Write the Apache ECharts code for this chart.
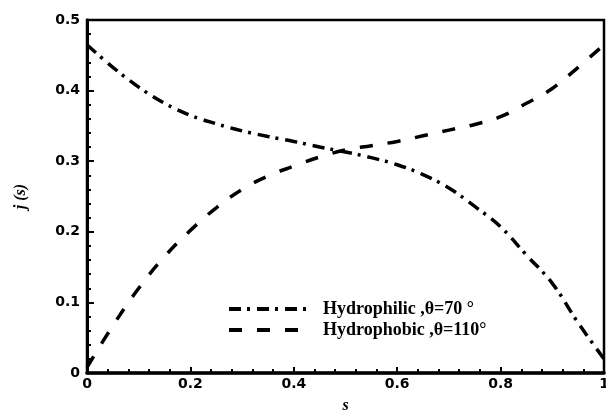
<!DOCTYPE html>
<html>
<head>
<meta charset="utf-8">
<script src="https://cdn.jsdelivr.net/npm/echarts@6/dist/echarts.min.js"></script>
<style>
  html, body { margin: 0; padding: 0; background: #fff; }
  #chart { width: 606px; height: 410px; }
</style>
</head>
<body>
<div id="chart"></div>
<script>
// Position along the path, s
const sValues = [0, 0.05, 0.10, 0.15, 0.20, 0.25, 0.30, 0.35, 0.40, 0.45, 0.50,
                 0.55, 0.60, 0.65, 0.70, 0.75, 0.80, 0.85, 0.90, 0.95, 1.00];

// j(s) for the hydrophilic case, θ = 70°
const hydrophilic = [0.465, 0.433, 0.405, 0.382, 0.365, 0.353, 0.343, 0.335, 0.328, 0.320, 0.313,
                     0.305, 0.295, 0.281, 0.262, 0.236, 0.207, 0.167, 0.127, 0.071, 0.020];

// j(s) for the hydrophobic case, θ = 110°
const hydrophobic = [0.008, 0.067, 0.120, 0.165, 0.202, 0.234, 0.260, 0.279, 0.293, 0.306, 0.316,
                     0.322, 0.328, 0.336, 0.344, 0.352, 0.363, 0.382, 0.403, 0.433, 0.465];

const seriesNames = ['Hydrophilic ,θ=70 °', 'Hydrophobic ,θ=110°'];

const xTicks = { min: 0, max: 1, step: 0.2 };
const yTicks = { min: 0, max: 0.5, step: 0.1 };

const pairs = ys => sValues.map((s, i) => [s, ys[i]]);

const labelFont = {
  color: '#000',
  fontFamily: 'DejaVu Sans',
  fontWeight: 'bold',
  fontSize: 14
};

const chart = echarts.init(document.getElementById('chart'), null, { renderer: 'canvas' });

chart.setOption({
  animation: false,
  backgroundColor: '#fff',
  grid: {
    left: 87, right: 2, top: 20, bottom: 37,
    outerBoundsMode: 'none',
    containLabel: false,
    show: true,
    borderColor: '#000',
    borderWidth: 2.5,
    backgroundColor: 'transparent'
  },
  legend: {
    orient: 'vertical',
    left: 222,
    top: 295,
    itemWidth: 80,
    itemHeight: 14,
    itemGap: 3,
    itemStyle: { opacity: 0 },
    lineStyle: { width: 4 },
    textStyle: {
      color: '#000',
      fontFamily: 'Liberation Serif',
      fontWeight: 'bold',
      fontSize: 18,
      lineHeight: 16,
      padding: [0, 0, 0, 9]
    },
    data: seriesNames
  },
  xAxis: {
    type: 'value',
    min: xTicks.min,
    max: xTicks.max,
    interval: xTicks.step,
    name: 's',
    nameLocation: 'middle',
    nameGap: 25,
    nameTextStyle: {
      color: '#000',
      fontFamily: 'Liberation Serif',
      fontStyle: 'italic',
      fontWeight: 'bold',
      fontSize: 16
    },
    axisLine: { show: true, lineStyle: { color: '#000', width: 3.5 } },
    axisTick: { show: true, inside: true, length: 6, lineStyle: { color: '#000', width: 2 } },
    minorTick: { show: true, splitNumber: 5, length: 4, lineStyle: { color: '#000', width: 2 } },
    axisLabel: Object.assign({ margin: 4 }, labelFont),
    splitLine: { show: false }
  },
  yAxis: {
    type: 'value',
    min: yTicks.min,
    max: yTicks.max,
    interval: yTicks.step,
    name: 'j (s)',
    nameLocation: 'middle',
    nameGap: 58,
    nameTextStyle: {
      color: '#000',
      fontFamily: 'Liberation Serif',
      fontStyle: 'italic',
      fontWeight: 'bold',
      fontSize: 16
    },
    axisLine: { show: true, lineStyle: { color: '#000', width: 3 } },
    axisTick: { show: true, inside: true, length: 7, lineStyle: { color: '#000', width: 2 } },
    minorTick: { show: true, splitNumber: 5, length: 4, lineStyle: { color: '#000', width: 2 } },
    axisLabel: Object.assign({ margin: 7 }, labelFont),
    splitLine: { show: false }
  },
  series: [
    {
      name: seriesNames[0],
      type: 'line',
      data: pairs(hydrophilic),
      smooth: 0.4,
      showSymbol: false,
      symbol: 'none',
      lineStyle: { color: '#000', width: 3.5, type: [12, 6, 3, 7] },
      itemStyle: { color: '#000' }
    },
    {
      name: seriesNames[1],
      type: 'line',
      data: pairs(hydrophobic),
      smooth: 0.4,
      showSymbol: false,
      symbol: 'none',
      lineStyle: { color: '#000', width: 3.5, type: [13, 15] },
      itemStyle: { color: '#000' }
    }
  ]
});
</script>
</body>
</html>
